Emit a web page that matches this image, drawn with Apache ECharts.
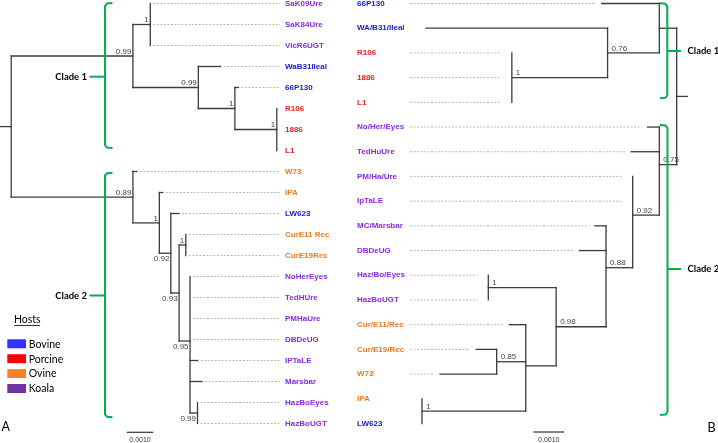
<!DOCTYPE html>
<html><head><meta charset="utf-8">
<script src="https://cdn.jsdelivr.net/npm/echarts@6/dist/echarts.min.js"></script>
<style>html,body{margin:0;padding:0;background:#fff}#c{width:718px;height:443px}</style>
</head><body><div id="c"></div>
<script>
// ================= Panel A data =================
const leavesA = ['SaK09Ure','SaK84Ure','VicR6UGT','WaB31Ileal','66P130','R106','1886','L1','W73','IPA','LW623','CurE11 Rec','CurE19Rec','NoHerEyes','TedHUre','PMHaUre','DBDeUG','IPTaLE','Marsbar','HazBoEyes','HazBoUGT'];
const hostsA = ['Koala','Koala','Koala','Bovine','Bovine','Porcine','Porcine','Porcine','Ovine','Ovine','Bovine','Ovine','Ovine','Koala','Koala','Koala','Koala','Koala','Koala','Koala','Koala'];
const leafParentA = ['sak','sak','sak','n3','n4','n5','n5','n5','c2','n7','n8','cur','cur','n11','n11','n11','n11','n11','n11','haz','haz'];
const leafDepthA = [0.00521,0.00521,0.00521,0.00785,0.00851,0.00995,0.00995,0.00995,0.00471,0.00568,0.00629,0.00654,0.00654,0.00670,0.00670,0.00670,0.00670,0.00699,0.00715,0.00698,0.00698];
const nodeIdA = ['root','c1','sak','n3','n4','n5','c2','n7','n8','n9','cur','n11','haz'];
const nodeParentA = [null,'root','c1','c1','n3','n4','root','c2','n7','n8','n9','n9','n11'];
const nodeDepthA = [0,0.00456,0.00521,0.00701,0.00838,0.00995,0.00456,0.00555,0.00598,0.00629,0.00654,0.00670,0.00698];
const supportA = ['','0.99','1','0.99','1','1','0.89','1','0.92','0.93','1','0.95','0.99'];
const rootStubA = 0.00042;

// ================= Panel B data =================
const leavesB = ['66P130','WA/B31/Ileal','R106','1886','L1','No/Her/Eyes','TedHuUre','PM/Ha/Ure','IpTaLE','MC/Marsbar','DBDeUG','Haz/Bo/Eyes','HazBoUGT','Cur/E11/Rec','Cur/E19/Rec','W73','IPA','LW623'];
const hostsB = ['Bovine','Bovine','Porcine','Porcine','Porcine','Koala','Koala','Koala','Koala','Koala','Koala','Koala','Koala','Ovine','Ovine','Ovine','Ovine','Bovine'];
const leafParentB = ['c1','n076','por','por','por','c2','c2','n092','n092','n088','n088','haz','haz','ncur','n085','n085','ipa','ipa'];
const leafDepthB = [0.00242,0.00809,0.00532,0.00532,0.00532,0.00094,0.00147,0.00142,0.00142,0.00264,0.00314,0.00608,0.00608,0.00540,0.00647,0.00764,0.00822,0.00822];
const nodeIdB = ['root','c1','n076','por','c2','n092','n088','n098','haz','ncur','n085','ipa'];
const nodeParentB = [null,'root','c1','n076','root','c2','n092','n088','n098','n098','ncur','ncur'];
const nodeDepthB = [0,0.00056,0.00223,0.00532,0.00056,0.00142,0.00228,0.00389,0.00608,0.00487,0.00581,0.00822];
const supportB = ['','','0.76','1','0.75','0.92','0.88','0.98','1','','0.85','1'];
const rootStubB = 0.00034;

// ================= shared =================
const hostNames = ['Bovine','Porcine','Ovine','Koala'];
const cladeNames = ['Clade 1','Clade 2'];
const scaleBarValue = 0.001;
const scaleBarLabel = '0.0010';

// styles
const swatchColor = {Bovine:'#3333ff', Porcine:'#ff0000', Ovine:'#ff7f27', Koala:'#7030a0'};
const labelColor = {Bovine:'#2020cc', Porcine:'#ea2228', Ovine:'#f07a1e', Koala:'#8a2be2'};
const belowLabelsA = ['n8','n9','n11','haz'];
const LINE = '#3c3c3c', GREEN = '#00b050';

function layout(leaves, leafParent, leafDepth, nodeId, nodeParent, nodeDepth, stub) {
  const children = {}; nodeId.forEach(id => children[id] = []);
  leaves.forEach((n, i) => children[leafParent[i]].push({leaf: i}));
  nodeId.forEach((id, k) => { if (nodeParent[k]) children[nodeParent[k]].push({node: id}); });
  const y = {};
  function gy(id) {
    if (y[id] !== undefined) return y[id];
    const ys = children[id].map(c => c.leaf !== undefined ? c.leaf : gy(c.node));
    y[id] = ys.reduce((a, b) => a + b, 0) / ys.length;
    return y[id];
  }
  nodeId.forEach(gy);
  const depthOf = id => nodeDepth[nodeId.indexOf(id)];
  const segs = [];
  nodeId.forEach((id, k) => {
    const ys = children[id].map(c => c.leaf !== undefined ? c.leaf : y[c.node]);
    segs.push([nodeDepth[k], Math.min(...ys), nodeDepth[k], Math.max(...ys), 0, 0]);
    if (nodeParent[k]) segs.push([depthOf(nodeParent[k]), y[id], nodeDepth[k], y[id], 0, 0]);
    else segs.push([-stub, y[id], nodeDepth[k], y[id], 0, 0]);
  });
  leaves.forEach((n, i) => {
    const pd = depthOf(leafParent[i]);
    if (leafDepth[i] > pd) segs.push([pd, i, leafDepth[i], i, 0, 0]);
    segs.push([leafDepth[i], i, leafDepth[i], i, 1, leafDepth[i] > pd ? 1 : 2]);
  });
  return {y, segs};
}

const LA = layout(leavesA, leafParentA, leafDepthA, nodeIdA, nodeParentA, nodeDepthA, rootStubA);
const LB = layout(leavesB, leafParentB, leafDepthB, nodeIdB, nodeParentB, nodeDepthB, rootStubB);
const supA = nodeIdA.map((id, k) => [nodeDepthA[k], LA.y[id], supportA[k], belowLabelsA.includes(id) ? 1 : 0]).filter(d => d[2]);
const supB = nodeIdB.map((id, k) => [nodeDepthB[k], LB.y[id], supportB[k], 0]).filter(d => d[2]);

function treeRender(side) {
  return function (params, api) {
    const x1 = api.value(0), y1 = api.value(1), x2 = api.value(2), y2 = api.value(3), kind = api.value(4), flag = api.value(5);
    const cs = params.coordSys;
    if (kind === 0) {
      const p1 = api.coord([x1, y1]), p2 = api.coord([x2, y2]);
      return {type: 'line', shape: {x1: p1[0], y1: p1[1], x2: p2[0], y2: p2[1]},
        style: {stroke: LINE, lineWidth: 1.3, lineCap: 'square'}};
    }
    const p = api.coord([x1, y1]);
    let a, b;
    if (side === 'A') { a = p[0] + 3; b = cs.x + cs.width; }
    else { a = cs.x; b = p[0] - (flag === 2 ? 11 : 6); }
    if (b - a < 12) return {type: 'group', children: []};
    return {type: 'line', shape: {x1: a, y1: p[1], x2: b, y2: p[1]},
      style: {stroke: '#b8b8b8', lineWidth: 1, lineDash: [2, 1.5]}};
  };
}
function supportRender(items, side) {
  return function (params, api) {
    const it = items[params.dataIndex];
    const p = api.coord([api.value(0), api.value(1)]);
    const below = it[3] === 1;
    return {type: 'text', style: {
      text: it[2], x: side === 'A' ? p[0] - 1.5 : p[0] + 4, y: below ? p[1] + 1.5 : p[1] - 0.5,
      align: side === 'A' ? 'right' : 'left', verticalAlign: below ? 'top' : 'bottom',
      fill: '#444', fontSize: 8, fontFamily: 'Liberation Sans, Arial'}};
  };
}
function yAxisFor(grid, leaves, hosts, pos, margin) {
  return {gridIndex: grid, type: 'value', min: 0, max: leaves.length - 1, interval: 1, inverse: true, position: pos,
    axisLine: {show: false}, axisTick: {show: false}, splitLine: {show: false},
    axisLabel: {margin: margin, align: 'left', fontSize: 8, fontWeight: 'bold', fontFamily: 'Liberation Sans, Arial',
      formatter: v => leaves[v] || '', color: (v) => labelColor[hosts[Math.round(+v)]]}};
}

const chart = echarts.init(document.getElementById('c'), null, {renderer: 'canvas', width: 718, height: 443});
chart.setOption({
  animation: false,
  backgroundColor: '#fff',
  grid: [
    {left: 0, top: 3.5, width: 280, height: 420, outerBoundsMode: 'none'},
    {left: 410, top: 3.5, width: 280, height: 420, outerBoundsMode: 'none'}
  ],
  xAxis: [
    {gridIndex: 0, type: 'value', min: -0.00042, max: 0.01007, show: false},
    {gridIndex: 1, type: 'value', min: -0.00043, max: 0.008607, inverse: true, show: false}
  ],
  yAxis: [
    yAxisFor(0, leavesA, hostsA, 'right', 5),
    yAxisFor(1, leavesB, hostsB, 'left', 53)
  ],
  series: [
    {type: 'custom', xAxisIndex: 0, yAxisIndex: 0, clip: false, data: LA.segs, renderItem: treeRender('A'), silent: true},
    {type: 'custom', xAxisIndex: 1, yAxisIndex: 1, clip: false, data: LB.segs, renderItem: treeRender('B'), silent: true},
    {type: 'custom', xAxisIndex: 0, yAxisIndex: 0, clip: false, data: supA.map(d => [d[0], d[1]]), renderItem: supportRender(supA, 'A'), silent: true, z: 5},
    {type: 'custom', xAxisIndex: 1, yAxisIndex: 1, clip: false, data: supB.map(d => [d[0], d[1]]), renderItem: supportRender(supB, 'B'), silent: true, z: 5}
  ]
});

// ---- annotations ----
const g = [];
function txt(x, y, text, opt) {
  g.push({type: 'text', x: x, y: y, z: 20, style: Object.assign({text: text, fill: '#000', fontSize: 10.5, fontFamily: 'Lato, Liberation Sans',
    align: 'left', verticalAlign: 'middle'}, opt || {})});
}
function bracket(x, top, bot, mid, hookDx, tickX, label, labelX, align) {
  const s = Math.sign(hookDx);
  g.push({type: 'polyline', z: 15, shape: {points: [[x + hookDx, top], [x + s * 2, top + 0.5], [x, top + 3], [x, bot - 3], [x + s * 2, bot - 0.5], [x + hookDx, bot]]},
    style: {stroke: GREEN, lineWidth: 2, fill: null}});
  g.push({type: 'line', z: 15, shape: {x1: x, y1: mid, x2: tickX, y2: mid}, style: {stroke: GREEN, lineWidth: 2}});
  txt(labelX, mid, label, {fontWeight: 'bold', fontSize: 9.5, align: align});
}
bracket(105, 3, 148, 76.7, 7.5, 89.5, cladeNames[0], 87, 'right');
bracket(105, 172.7, 417.3, 295.5, 7.5, 89.5, cladeNames[1], 87, 'right');
bracket(667.3, 3.3, 98.3, 51, -7.5, 681, cladeNames[0], 687.5, 'left');
bracket(667.5, 125, 415, 269, -7.5, 681, cladeNames[1], 687.5, 'left');

// legend
txt(14, 320, 'Hosts');
g.push({type: 'line', shape: {x1: 14, y1: 325.5, x2: 40, y2: 325.5}, style: {stroke: '#000', lineWidth: 0.8}});
hostNames.forEach((h, i) => {
  const yy = 339.3 + i * 14.9;
  g.push({type: 'rect', shape: {x: 7.3, y: yy, width: 18.7, height: 9}, style: {fill: swatchColor[h]}});
  txt(28.7, yy + 5, h);
});
txt(1.5, 426.7, 'A', {fontSize: 12.5});
txt(707.5, 428, 'B', {fontSize: 12.5});

// scale bars, length from the axis scale
function scaleBar(xAxisIndex, x0, y) {
  const a = chart.convertToPixel({xAxisIndex: xAxisIndex}, 0);
  const b = chart.convertToPixel({xAxisIndex: xAxisIndex}, scaleBarValue);
  const len = Math.abs(b - a);
  g.push({type: 'line', shape: {x1: x0, y1: y, x2: x0 + len, y2: y}, style: {stroke: '#333', lineWidth: 1.2}});
  txt(x0 + len / 2, y + 8, scaleBarLabel, {fontSize: 7, fontFamily: 'Liberation Sans, Arial', align: 'center', fill: '#333'});
}
scaleBar(0, 126.7, 432.3);
scaleBar(1, 533.3, 432);

chart.setOption({graphic: g});
</script>
</body></html>
